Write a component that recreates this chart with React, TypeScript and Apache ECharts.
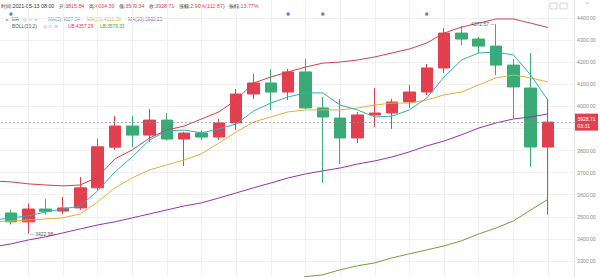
import React, { useEffect, useRef } from 'react';
import * as echarts from 'echarts';

// ---- data ----
const categories = [
  '2021-04-11', '2021-04-12', '2021-04-13', '2021-04-14', '2021-04-15', '2021-04-16', '2021-04-17',
  '2021-04-18', '2021-04-19', '2021-04-20', '2021-04-21', '2021-04-22', '2021-04-23', '2021-04-24',
  '2021-04-25', '2021-04-26', '2021-04-27', '2021-04-28', '2021-04-29', '2021-04-30', '2021-05-01',
  '2021-05-02', '2021-05-03', '2021-05-04', '2021-05-05', '2021-05-06', '2021-05-07', '2021-05-08',
  '2021-05-09', '2021-05-10', '2021-05-11', '2021-05-12', '2021-05-13', '2021-05-14',
];
const opens = [3566, 3517, 3477, 3535, 3526, 3540, 3631, 3815, 3911, 3870, 3938, 3852, 3879, 3861, 3925, 4056, 4106, 4065, 4156, 3993, 3947, 3857, 3961, 3970, 4020, 4065, 4174, 4332, 4305, 4273, 4187, 4083, 3815.84];
const closes = [3518, 3477, 3535, 3525, 3540, 3631, 3817, 3911, 3870, 3938, 3852, 3879, 3861, 3925, 4056, 4106, 4065, 4156, 3993, 3952, 3857, 3961, 3970, 4020, 4065, 4174, 4332, 4305, 4273, 4187, 4088, 3816, 3928.71];
const lows = [3505, 3465, 3422.98, 3510, 3513, 3531, 3622, 3803, 3816, 3839, 3845, 3730, 3850, 3848, 3893, 4033, 3984, 4029, 3988, 3653, 3739, 3834, 3907, 3898, 3993, 4052, 4151, 4278, 4242, 4142, 3947, 3726, 3509.34];
const highs = [3580, 3530, 3560, 3580, 3590, 3680, 3852, 3957, 3957, 3988, 3970, 3885, 3890, 3943, 4079, 4147, 4169, 4169, 4215, 4043, 4034, 3975, 4083, 4034, 4097, 4192, 4355, 4364, 4314, 4372.57, 4215, 4242, 4034.39];

const ma5 = [3485, 3495, 3504, 3522, 3535, 3549, 3617, 3703, 3771, 3848, 3889, 3893, 3880, 3898, 3920, 3979, 4015, 4043, 4061, 4061, 4006, 3984, 3952, 3956, 3984, 4038, 4133, 4210, 4242, 4246, 4233, 4142, 4027.54];
const ma10 = [3477, 3481, 3486, 3490, 3495, 3513, 3567, 3631, 3676, 3712, 3735, 3757, 3785, 3834, 3884, 3929, 3952, 3975, 3984, 3984, 3984, 3993, 4006, 4015, 4015, 4029, 4052, 4065, 4097, 4129, 4142, 4129, 4110.38];
const bollMid = [3364, 3377, 3395, 3409, 3427, 3445, 3463, 3477, 3495, 3513, 3531, 3549, 3563, 3585, 3608, 3631, 3653, 3676, 3694, 3708, 3721, 3739, 3753, 3771, 3794, 3821, 3843, 3871, 3902, 3925, 3943, 3952, 3966];
const bollUp = [3662, 3658, 3649, 3644, 3640, 3644, 3680, 3762, 3803, 3857, 3893, 3911, 3943, 3975, 4029, 4106, 4133, 4156, 4178, 4196, 4201, 4210, 4224, 4242, 4260, 4287, 4332, 4359, 4377, 4396, 4396, 4377, 4357.29];
const bollLow = [null, null, null, null, null, null, null, null, null, null, null, null, null, null, null, null, 3160, 3195, 3229, 3237, 3260, 3278, 3291, 3314, 3332, 3350, 3368, 3391, 3422, 3449, 3481, 3531, 3579.33];

const eventMarkerIdx = [1, 17, 19, 25];
const EVENT_Y = 4418;
const highIdx = 29;
const highVal = 4372.57;
const lowIdx = 2;
const lowVal = 3422.98;
const countdown = '03:31';

const Y_MIN = 3200;
const Y_MAX = 4500;
const Y_STEP = 100;

const UP = '#e2404f';
const DOWN = '#3aab76';

export default function App() {
  const ref = useRef<HTMLDivElement>(null);
  useEffect(() => {
    if (!ref.current) return;
    document.body.style.margin = '0';
    const chart = echarts.init(ref.current, null, { renderer: 'svg' });
    const kData = opens.map((o, i) => [o, closes[i], lows[i], highs[i]]);
    const lastClose = closes[closes.length - 1];
    const F = 'Liberation Sans, Arial, sans-serif';
    const fs = 4.8;
    const txt = (x: number, y: number, text: string, fill: string, size = fs) => ({
      type: 'text', x, y, silent: true,
      style: { text, fill, font: `${size}px ${F}`, verticalAlign: 'middle' },
    });
    chart.setOption({
      animation: false,
      backgroundColor: '#ffffff',
      grid: { left: -15, right: 26, top: -4, bottom: -6, outerBoundsMode: 'none', containLabel: false },
      xAxis: {
        type: 'category',
        data: categories,
        boundaryGap: true,
        axisLine: { show: false },
        axisTick: { show: false },
        axisLabel: { show: false },
        splitLine: { show: true, interval: 1, alignWithLabel: true, lineStyle: { color: '#f1f1f1', width: 1 } },
      },
      yAxis: {
        type: 'value',
        position: 'right',
        min: Y_MIN,
        max: Y_MAX,
        interval: Y_STEP,
        axisLine: { show: true, lineStyle: { color: '#e4e4e4' } },
        axisTick: { show: false },
        axisLabel: {
          color: '#8a8a8a', fontSize: 5.2, fontFamily: F, margin: 3,
          showMinLabel: false, showMaxLabel: false,
          formatter: (v: number) => (Math.abs(v - lastClose) < 40 ? '' : v.toFixed(2)),
        },
        splitLine: { show: true, lineStyle: { color: '#f1f1f1', width: 1 } },
      },
      series: [
        {
          type: 'candlestick',
          data: kData,
          barWidth: 12,
          itemStyle: { color: UP, color0: DOWN, borderColor: UP, borderColor0: DOWN, borderWidth: 1 },
          markLine: {
            silent: true,
            symbol: ['none', 'none'],
            data: [{ yAxis: lastClose }],
            lineStyle: { type: [2, 2], color: '#8c8c8c', width: 0.7 },
            label: {
              show: true, position: 'end', distance: 1,
              formatter: `${lastClose.toFixed(2)}\n${countdown}`,
              backgroundColor: UP, color: '#ffffff', fontSize: 5, lineHeight: 7,
              fontFamily: F, padding: [1.5, 2.5],
            },
          },
          markPoint: {
            silent: true,
            symbol: 'circle',
            symbolSize: 0,
            data: [
              {
                coord: [categories[highIdx], highVal],
                label: { show: true, position: 'left', distance: 2, formatter: `${highVal.toFixed(2)} ─`, color: '#555', fontSize: 5, fontFamily: F },
              },
              {
                coord: [categories[lowIdx], lowVal],
                label: { show: true, position: 'right', distance: 2, formatter: `─ ${lowVal.toFixed(2)}`, color: '#555', fontSize: 5, fontFamily: F },
              },
            ],
          },
        },
        { type: 'line', data: bollUp, symbol: 'none', lineStyle: { color: '#d63e4c', width: 1 }, z: 3 },
        { type: 'line', data: bollMid, symbol: 'none', lineStyle: { color: '#9a2fae', width: 1 }, z: 3 },
        { type: 'line', data: bollLow, symbol: 'none', lineStyle: { color: '#6aa13a', width: 1 }, z: 3 },
        { type: 'line', data: ma10, symbol: 'none', lineStyle: { color: '#e0b23e', width: 1 }, z: 3 },
        { type: 'line', data: ma5, symbol: 'none', lineStyle: { color: '#2fb0b6', width: 1 }, z: 3 },
        {
          type: 'scatter',
          data: eventMarkerIdx.map((k) => [categories[k], EVENT_Y]),
          symbolSize: 3.5,
          itemStyle: { color: '#2b6cd4' },
          silent: true,
          z: 4,
        },
      ],
      graphic: [
        {
          type: 'text', x: 1, y: 6, silent: true,
          style: {
            text: '{l|时间:2021-05-13 08:00   开:}{v|3815.84}{l|   高:}{v|4034.39}{l|   低:}{v|3509.34}{l|   收:}{v|3928.71}{l|   涨幅:}{v|2.90%(112.87)}{l|   振幅:}{v|13.77%}',
            font: `5.3px ${F}`,
            verticalAlign: 'middle',
            rich: {
              l: { fill: '#333333', fontSize: 5.3, fontFamily: F },
              v: { fill: UP, fontSize: 5.3, fontFamily: F },
            },
          },
        },
        txt(5, 19.3, '∨  MA', '#555555'),
        txt(23, 19.3, '◎ ⊙ ⊗', '#b5b5b5'),
        txt(48, 19.3, 'MA(5):4027.54', '#2fb0a0'),
        txt(87, 19.3, 'MA(10):4110.38', '#d9b020'),
        txt(128, 19.3, 'MA(30):3908.25', '#b53cc0'),
        txt(12, 26.7, 'BOLL(30,2)', '#555555'),
        txt(43, 26.7, '◎ ⊙ ⊗', '#b5b5b5'),
        txt(68, 26.7, 'UB:4357.29', '#d8346a'),
        txt(100, 26.7, 'LB:3579.33', '#4f9a30'),
        { type: 'rect', shape: { x: 550, y: 3, width: 7, height: 6 }, style: { fill: 'none', stroke: '#c4c4c4', lineWidth: 0.7 }, silent: true },
        { type: 'rect', shape: { x: 560, y: 3, width: 7, height: 6 }, style: { fill: 'none', stroke: '#c4c4c4', lineWidth: 0.7 }, silent: true },
        txt(586, 3.5, '^', '#999999', 6),
      ],
    });
    return () => chart.dispose();
  }, []);
  return (
    <div
      ref={ref}
      style={{ position: 'fixed', left: 0, top: 0, width: 600, height: 277, background: '#fff' }}
    />
  );
}
